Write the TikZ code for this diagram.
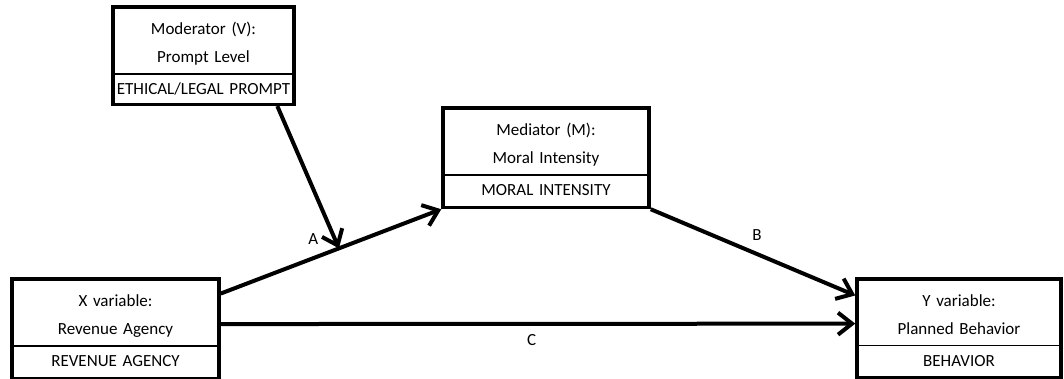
\documentclass[tikz,border=0pt]{standalone}
\usepackage{fontspec}
\setmainfont{Carlito}
\usetikzlibrary{shapes.multipart, positioning, calc, arrows.meta}
\tikzset{every picture/.append style={thick}}
\newcommand{\topstrut}{\rule{0pt}{19pt}}
\newcommand{\lowstrut}{\rule[-2pt]{0pt}{2pt}}
\newcommand{\rowstrut}{\rule[-3pt]{0pt}{15pt}}
\newcommand{\thinrowstrut}{\rule[-1pt]{0pt}{12pt}}
\tikzset{
    varbox/.style={rectangle split, rectangle split parts=2, rectangle split draw splits=false,
        draw, line width=3.5pt, inner xsep=0pt, inner ysep=7pt, align=center,
        font=\fontsize{17}{28}\selectfont},
    splitline/.style={line width=1.5pt},
    link/.style={line width=4pt, -{Straight Barb[length=14pt, width=22pt]}},
    linklabel/.style={font=\fontsize{17}{20}\selectfont, inner sep=3pt}
}

\begin{document}
\begin{tikzpicture}[x=1pt, y=-1pt]
        \useasboundingbox (0,0) rectangle (1064,378);

        % Variable boxes
        \node[varbox, text width=181pt, anchor=north] (mod) at (203.5,5)
            {\topstrut Moderator (V):\\Prompt Level\lowstrut \nodepart{two}\thinrowstrut ETHICAL/LEGAL PROMPT};
        \node[varbox, text width=206pt, anchor=north] (med) at (546,106)
            {\topstrut Mediator (M):\\Moral Intensity\lowstrut \nodepart{two}\rowstrut MORAL INTENSITY};
        \node[varbox, text width=207pt, anchor=north] (xvar) at (115.5,277)
            {\topstrut X variable:\\Revenue Agency\lowstrut \nodepart{two}\rowstrut REVENUE AGENCY};
        \node[varbox, text width=204pt, anchor=north] (yvar) at (959,277)
            {\topstrut Y variable:\\Planned Behavior\lowstrut \nodepart{two}\rowstrut BEHAVIOR};

        % Split lines
        \foreach \b in {mod, med, xvar, yvar}
            \draw[splitline] (\b.text split west) -- (\b.text split east);

        % Connector end points
        \coordinate (xa) at ($(xvar.north east)!0.16!(xvar.south east)$);
        \coordinate (xc) at ($(xvar.north east)!0.455!(xvar.south east)$);
        \coordinate (yb) at ($(yvar.north west)!0.18!(yvar.south west)$);
        \coordinate (yc) at ($(yvar.north west)!0.455!(yvar.south west)$);
        \coordinate (modfoot) at ($(mod.south west)!0.9!(mod.south east)$);
        \coordinate (amid) at ($(xa)!0.536!(med.south west)$);

        % Paths
        \draw[link] (xa) -- (med.south west) node[linklabel, pos=0.42, above=9pt] (lblA) {A};
        \draw[link] (med.south east) -- (yb) node[linklabel, pos=0.52, above=9pt] (lblB) {B};
        \draw[link] (xc) -- (yc) node[linklabel, pos=0.49, below=6pt] (lblC) {C};
        \draw[link] (modfoot) -- (amid);
    \end{tikzpicture}
\end{document}
